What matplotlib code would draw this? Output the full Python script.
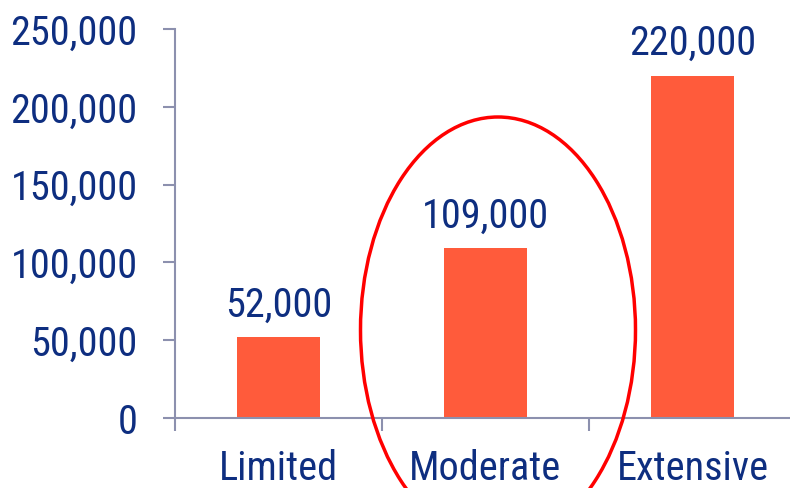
import matplotlib
matplotlib.use('Agg')
import matplotlib.pyplot as plt
from matplotlib.patches import Ellipse
from matplotlib.ticker import FuncFormatter

categories = ['Limited', 'Moderate', 'Extensive']
values = [52000, 109000, 220000]
value_labels = ['52,000', '109,000', '220,000']
y_ticks = [0, 50000, 100000, 150000, 200000, 250000]

plt.rcParams['font.family'] = ['Roboto Condensed', 'DejaVu Sans']

navy = '#0E2E80'
axis_col = '#8C90AE'
bar_col = '#FF5B3B'

fig = plt.figure(figsize=(7.9, 4.88), dpi=100)
ax = fig.add_axes([175 / 790, 70 / 488, 621 / 790, 389 / 488])

x = list(range(len(categories)))
ax.bar(x, values, width=0.4, color=bar_col, zorder=2)

# value labels above bars
for xi, v, lab in zip(x, values, value_labels):
    ax.annotate(lab, (xi, v), xytext=(0, 9), textcoords='offset points',
                ha='center', va='bottom', fontsize=29, color=navy)

ax.set_xlim(-0.5, 2.5)
ax.set_ylim(0, 250000)
ax.set_yticks(y_ticks)
ax.yaxis.set_major_formatter(FuncFormatter(lambda v, p: f'{int(v):,}'))
ax.set_xticks(x)
ax.set_xticklabels(categories)
ax.set_xticks([-0.5, 0.5, 1.5, 2.5], minor=True)

ax.tick_params(axis='y', labelsize=29, labelcolor=navy, color=axis_col,
               length=9, width=1.5, pad=18)
ax.tick_params(axis='x', which='major', length=0, labelsize=29,
               labelcolor=navy, pad=22)
ax.tick_params(axis='x', which='minor', length=9, width=1.5, color=axis_col)

for s in ['top', 'right']:
    ax.spines[s].set_visible(False)
for s in ['left', 'bottom']:
    ax.spines[s].set_color(axis_col)
    ax.spines[s].set_linewidth(1.5)

# red ellipse highlighting the middle category
ell = Ellipse((498 / 790, (488 - 330) / 488), 275 / 790, 426 / 488,
              transform=fig.transFigure, fill=False, edgecolor='#FF0000',
              linewidth=2.5, clip_on=False, zorder=5)
fig.patches.append(ell)

fig.savefig('out.png', dpi=100)
